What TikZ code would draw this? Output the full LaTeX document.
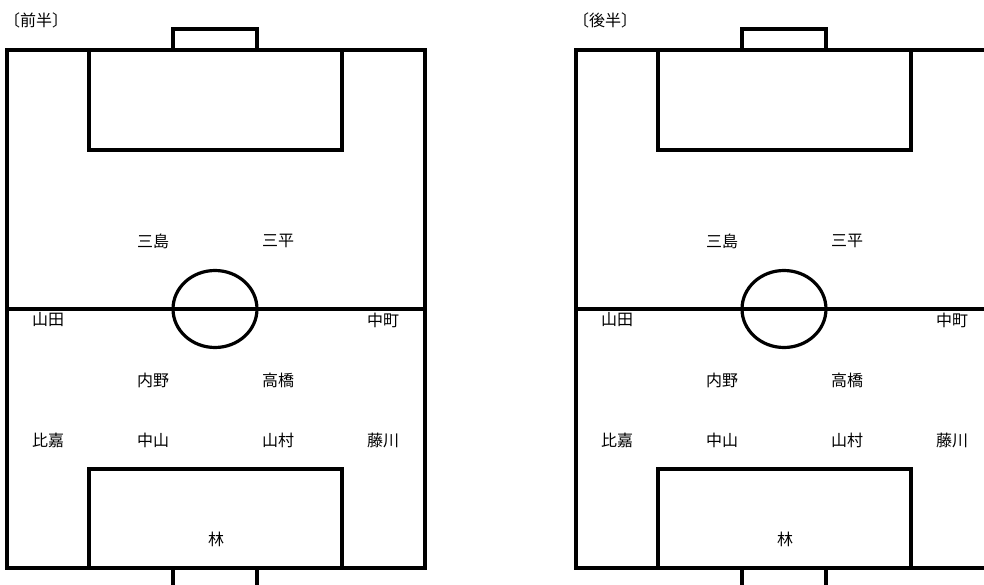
\documentclass[tikz,border=0pt]{standalone}
\usepackage{fontspec}
\setmainfont{Noto Sans CJK JP}
\begin{document}
\begin{tikzpicture}[x=1pt,y=-1pt,
  fieldline/.style={line width=3.2pt, line cap=rect, draw=black},
  player/.style={font=\fontsize{16}{16}\selectfont, inner sep=0pt, anchor=center},
  title/.style={font=\fontsize{16}{16}\selectfont, inner sep=0pt, anchor=west}]
\useasboundingbox (0,0) rectangle (984,585);
\clip (0,0) rectangle (984,585);
\foreach \half/\dx in {前半/0, 後半/569}{
  \begin{scope}[xshift=\dx pt]
    \node[title] (t\dx) at (4,20) {〔\half〕};
    % outer field
    \draw[fieldline] (7,50) rectangle (425,568);
    % halfway line
    \draw[fieldline] (7,309) -- (425,309);
    % centre circle
    \draw[fieldline] (215,309) ellipse [x radius=42, y radius=38.5];
    % top penalty area and goal
    \draw[fieldline] (89,50) rectangle (342,150);
    \draw[fieldline] (173,50) -- (173,29) -- (257,29) -- (257,50);
    % bottom penalty area and goal
    \draw[fieldline] (89,568) -- (89,469) -- (342,469) -- (342,568);
    \draw[fieldline] (173,568) -- (173,600);
    \draw[fieldline] (257,568) -- (257,600);
    % players
    \node[player] (a\dx) at (153,241) {三島};
    \node[player] (b\dx) at (278,241) {三平};
    \node[player] (c\dx) at (48,320) {山田};
    \node[player] (d\dx) at (383,320) {中町};
    \node[player] (e\dx) at (153,380) {内野};
    \node[player] (f\dx) at (278,380) {高橋};
    \node[player] (g\dx) at (48,440) {比嘉};
    \node[player] (h\dx) at (153,440) {中山};
    \node[player] (i\dx) at (278,440) {山村};
    \node[player] (j\dx) at (383,440) {藤川};
    \node[player] (k\dx) at (216,539) {林};
  \end{scope}
}
\end{tikzpicture}
\end{document}
